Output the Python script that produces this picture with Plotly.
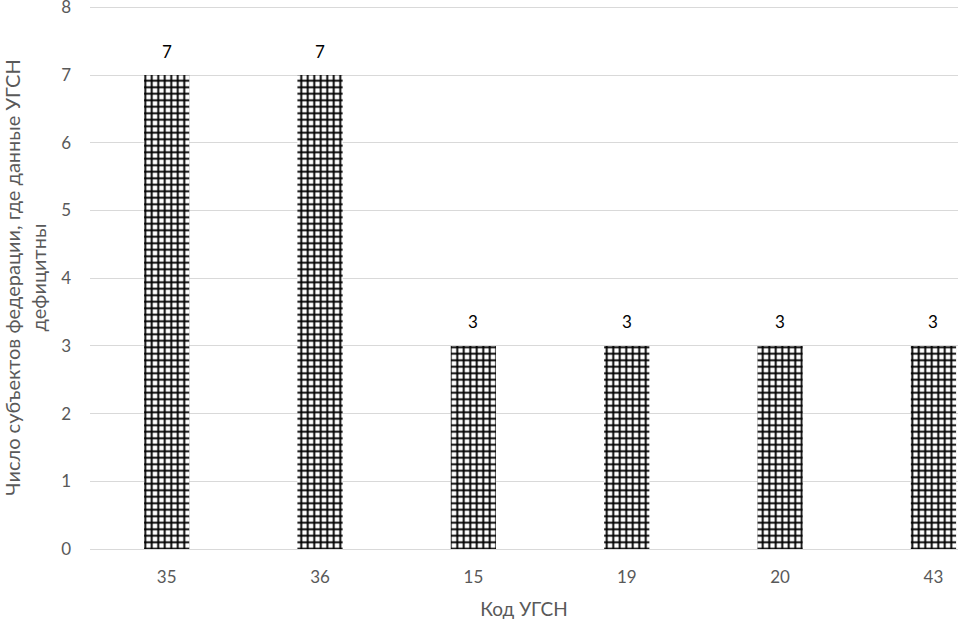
import plotly.graph_objects as go

categories = ["35", "36", "15", "19", "20", "43"]
values = [7, 7, 3, 3, 3, 3]
y_ticks = [0, 1, 2, 3, 4, 5, 6, 7, 8]

fig = go.Figure()
fig.add_trace(go.Bar(
    x=categories,
    y=values,
    width=0.295,
    marker=dict(
        color="white",
        line=dict(width=0),
        pattern=dict(shape="+", fgcolor="#000000", bgcolor="#ffffff",
                     fgopacity=1, size=6.5, solidity=0.5),
    ),
))

for i, v in enumerate(values):
    fig.add_annotation(x=i, y=v, xref="x", yref="y", text=str(v), showarrow=False, yshift=24,
                       font=dict(color="#000000", size=17, family="Lato"))

fig.update_layout(
    width=958, height=621,
    margin=dict(l=90, r=0, t=6, b=72),
    paper_bgcolor="white",
    plot_bgcolor="white",
    showlegend=False,
    font=dict(family="Lato", color="#595959", size=17),
    xaxis=dict(
        type="category",
        range=[-0.5, 5.16],
        automargin=False,
        showgrid=False,
        showline=False,
        ticks="",
        ticklabelstandoff=16,
        tickfont=dict(size=17, color="#595959"),
        title=dict(text="Код УГСН", font=dict(size=19, color="#595959"), standoff=16),
    ),
    yaxis=dict(
        range=[0, 8.02],
        tickvals=y_ticks,
        automargin=False,
        showgrid=True,
        gridcolor="#d9d9d9",
        gridwidth=1,
        zeroline=True,
        zerolinecolor="#d9d9d9",
        zerolinewidth=1,
        ticks="",
        ticklabeloverflow="allow",
        ticklabelstandoff=18,
        tickfont=dict(size=17, color="#595959"),
        title=dict(text="Число субъектов федерации, где данные УГСН<br>дефицитны",
                   font=dict(size=20, color="#595959"), standoff=24),
    ),
)

fig.write_html("out.html", config={"displayModeBar": False},
               post_script="document.body.style.margin='0';")
